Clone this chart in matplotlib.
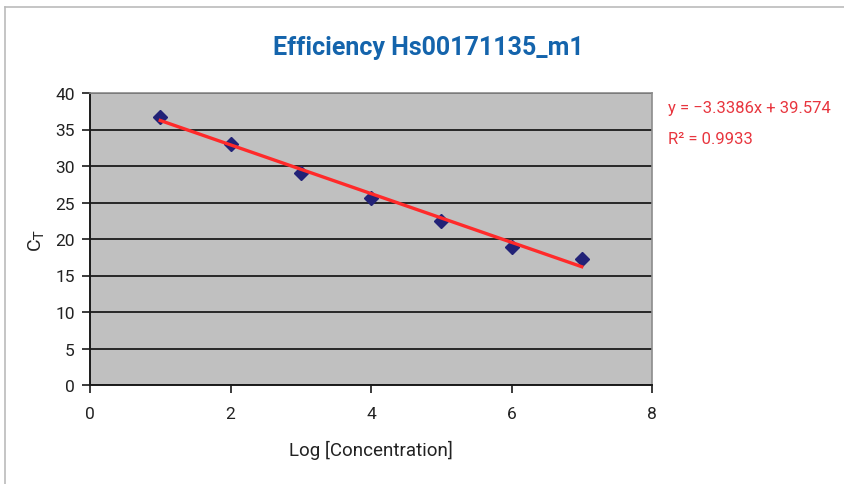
import matplotlib
matplotlib.use("Agg")
import matplotlib.pyplot as plt
from matplotlib.lines import Line2D
import numpy as np

# Data
log_conc = [1, 2, 3, 4, 5, 6, 7]
ct_values = [36.7, 33.0, 29.1, 25.6, 22.4, 18.9, 17.3]
slope = -3.3386
intercept = 39.574
r_squared = 0.9933
x_ticks = [0, 2, 4, 6, 8]
y_ticks = [0, 5, 10, 15, 20, 25, 30, 35, 40]
title = "Efficiency Hs00171135_m1"

plt.rcParams['font.family'] = ['Roboto', 'DejaVu Sans']

fig = plt.figure(figsize=(8.44, 4.85), dpi=100)
ax = fig.add_axes([90/844, (485-386)/485, (652-90)/844, (386-94)/485])

ax.set_facecolor('#C0C0C0')
ax.set_xlim(0, 8)
ax.set_ylim(0, 40)
ax.set_xticks(x_ticks)
ax.set_yticks(y_ticks)
ax.yaxis.grid(True, color='#1a1a1a', linewidth=1.3)
ax.set_axisbelow(True)

for s in ['top', 'right']:
    ax.spines[s].set_color('#8c8c8c')
    ax.spines[s].set_linewidth(1.2)
for s in ['left', 'bottom']:
    ax.spines[s].set_color('#1a1a1a')
    ax.spines[s].set_linewidth(1.4)

ax.tick_params(axis='both', direction='out', length=6, width=1.2, color='#1a1a1a',
               labelsize=12.5, labelcolor='#222222')
ax.tick_params(axis='x', pad=9)
ax.tick_params(axis='y', pad=5)

ax.plot(log_conc, ct_values, linestyle='none', marker='D', markersize=7.5,
        color='#222277', zorder=3)

xs = np.array([log_conc[0], log_conc[-1]])
ax.plot(xs, slope * xs + intercept, color='#FF2A2A', linewidth=2.4, zorder=4)

ax.set_xlabel("Log [Concentration]", fontsize=13.5, color='#222222', labelpad=14)
ax.set_ylabel("C$_\\mathrm{T}$", fontsize=14, color='#222222', labelpad=6)

fig.text(428/844, 1 - 48/485, title, ha='center', va='center', fontsize=18,
         fontweight='bold', color='#1464AC')

fig.text(668/844, 1 - 108/485, "y = \u22123.3386x + 39.574", ha='left', va='center',
         fontsize=12, color='#E8363F')
fig.text(668/844, 1 - 140/485, f"R\u00b2 = {r_squared}", ha='left', va='center',
         fontsize=12, color='#E8363F')

# frame (top and left edges visible)
fig.add_artist(Line2D([5/844, 1], [1 - 8/485, 1 - 8/485], transform=fig.transFigure,
                      color='#BBBBBB', linewidth=1.2))
fig.add_artist(Line2D([5/844, 5/844], [0, 1 - 8/485], transform=fig.transFigure,
                      color='#BBBBBB', linewidth=1.2))

fig.savefig("out.png", dpi=100)
